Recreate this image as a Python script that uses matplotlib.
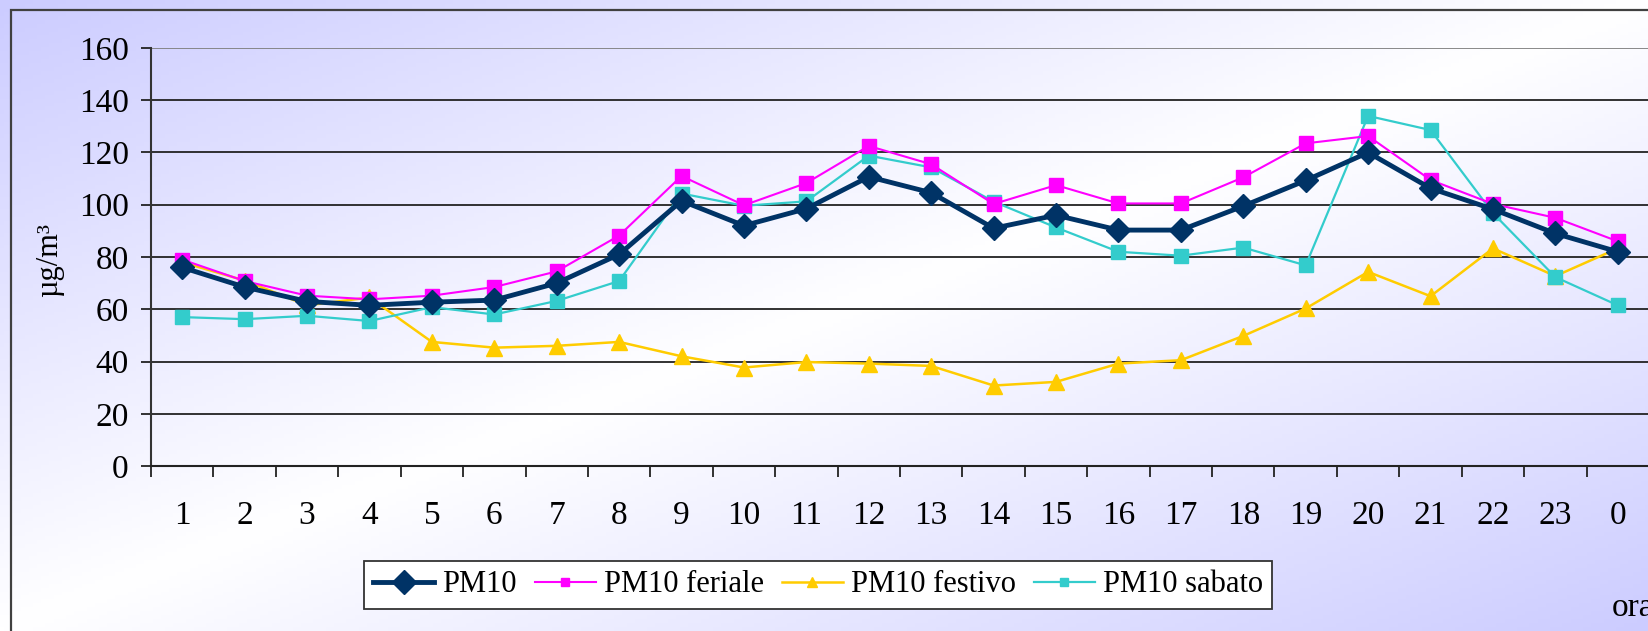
import numpy as np
import matplotlib
matplotlib.use("Agg")
import matplotlib.pyplot as plt
from matplotlib.patches import Rectangle
from matplotlib.lines import Line2D

plt.rcParams['font.family'] = ['Liberation Serif', 'DejaVu Serif']

ore = ['1', '2', '3', '4', '5', '6', '7', '8', '9', '10', '11', '12',
       '13', '14', '15', '16', '17', '18', '19', '20', '21', '22', '23', '0']

pm10 = [76, 68.5, 63, 61.5, 62.7, 63.5, 70, 81, 101.5, 92, 98.5, 110.7,
        104.6, 91, 96, 90.3, 90.3, 99.5, 109.3, 120, 106.3, 98.3, 89, 82]
pm10_feriale = [79, 70.8, 65.2, 63.8, 65.2, 68.5, 74.5, 88.2, 111, 99.8, 108.3, 122.5,
                115.5, 100.3, 107.5, 100.5, 100.5, 110.5, 123.5, 126.3, 109.5, 100.3, 95, 86]
pm10_festivo = [78, 71, 61.5, 64.5, 47.5, 45.3, 46, 47.5, 42, 37.7, 39.8, 39.2,
                38.3, 30.8, 32.2, 39.2, 40.5, 49.8, 60.3, 74.3, 65, 83.3, 72.7, 83.3]
pm10_sabato = [57, 56.2, 57.5, 55.5, 60.8, 58, 63.2, 70.8, 104.3, 99.6, 101.3, 118.8,
               114.3, 101.2, 91.3, 82, 80.5, 83.6, 76.8, 134, 128.6, 96.8, 72.3, 61.5]

W, H = 1649, 631
fig = plt.figure(figsize=(W / 100, H / 100), dpi=100)

# sfondo sfumato (lavanda - bianco - lavanda in diagonale)
bg = fig.add_axes([0, 0, 1, 1], zorder=-10)
xx, yy = np.meshgrid(np.linspace(0, 1, 400), np.linspace(0, 1, 160))
t = (xx + yy) / 2
w = 1 - np.abs(2 * t - 1)
lav = np.array([204, 204, 255]) / 255
img = lav[None, None, :] + (1 - lav)[None, None, :] * w[:, :, None]
bg.imshow(img, aspect='auto', extent=[0, 1, 0, 1], origin='upper')
bg.set_axis_off()

fig.patches.append(Rectangle((11 / W, -0.2), 2, 1.2 - 10 / H, transform=fig.transFigure,
                             fill=False, edgecolor='#404040', linewidth=1.6))

ax = fig.add_axes([151 / W, 1 - 466 / H, 1 - 151 / W, (466 - 48) / H])
ax.patch.set_alpha(0)
x = np.arange(len(ore))

ax.plot(x, pm10_festivo, color='#FFCC00', lw=1.8, marker='^', ms=11, label='PM10 festivo', zorder=3)
ax.plot(x, pm10_sabato, color='#33CCCC', lw=1.6, marker='s', ms=9.5, label='PM10 sabato', zorder=4)
ax.plot(x, pm10_feriale, color='#FF00FF', lw=1.5, marker='s', ms=9.5, label='PM10 feriale', zorder=5)
ax.plot(x, pm10, color='#003366', lw=3.5, marker='D', ms=12.5, label='PM10', zorder=6)

ax.set_xlim(-0.5, len(ore) - 0.5)
ax.set_ylim(0, 160)
ax.set_yticks(range(0, 161, 20))
for v in range(20, 161, 20):
    ax.axhline(v, color='#808080' if v == 160 else '#222222', lw=1.3, zorder=1)

ax.set_xticks(np.arange(-0.5, len(ore) - 0.5, 1))
ax.set_xticklabels([])
ax.set_xticks(x, minor=True)
ax.set_xticklabels(ore, minor=True)
ax.tick_params(axis='x', which='major', direction='out', length=8, width=1.3, color='#222222')
ax.tick_params(axis='x', which='minor', length=0, pad=25, labelsize=24)
ax.tick_params(axis='y', direction='out', length=7, width=1.3, color='#222222', pad=9, labelsize=24)

for s in ['top', 'right']:
    ax.spines[s].set_visible(False)
ax.spines['left'].set_linewidth(1.5)
ax.spines['left'].set_color('#333333')
ax.spines['bottom'].set_linewidth(1.5)
ax.spines['bottom'].set_color('#222222')

fig.text(50 / W, 1 - 260 / H, 'µg/m³', rotation=90, ha='center', va='center', fontsize=22)
# "ora" e' tagliato dal bordo destro anche nell'originale
fig.text(1612 / W, 1 - 608 / H, 'ora', ha='left', va='center', fontsize=24)

handles = [
    Line2D([], [], color='#003366', lw=3.5, marker='D', ms=12),
    Line2D([], [], color='#FF00FF', lw=1.5, marker='s', ms=6),
    Line2D([], [], color='#FFCC00', lw=1.8, marker='^', ms=7),
    Line2D([], [], color='#33CCCC', lw=1.6, marker='s', ms=6),
]
labels = ['PM10', 'PM10 feriale', 'PM10 festivo', 'PM10 sabato']
leg = fig.legend(handles, labels, loc='center', bbox_to_anchor=(818 / W, 1 - 585 / H),
                 ncol=4, fontsize=22, frameon=True, fancybox=False, shadow=False,
                 handlelength=2.0, handletextpad=0.25, columnspacing=0.6,
                 borderpad=0.3, borderaxespad=0)
leg.get_frame().set_edgecolor('#333333')
leg.get_frame().set_linewidth(1.3)
leg.get_frame().set_facecolor('white')
leg.get_frame().set_alpha(1)

fig.savefig('out.png', dpi=100)
